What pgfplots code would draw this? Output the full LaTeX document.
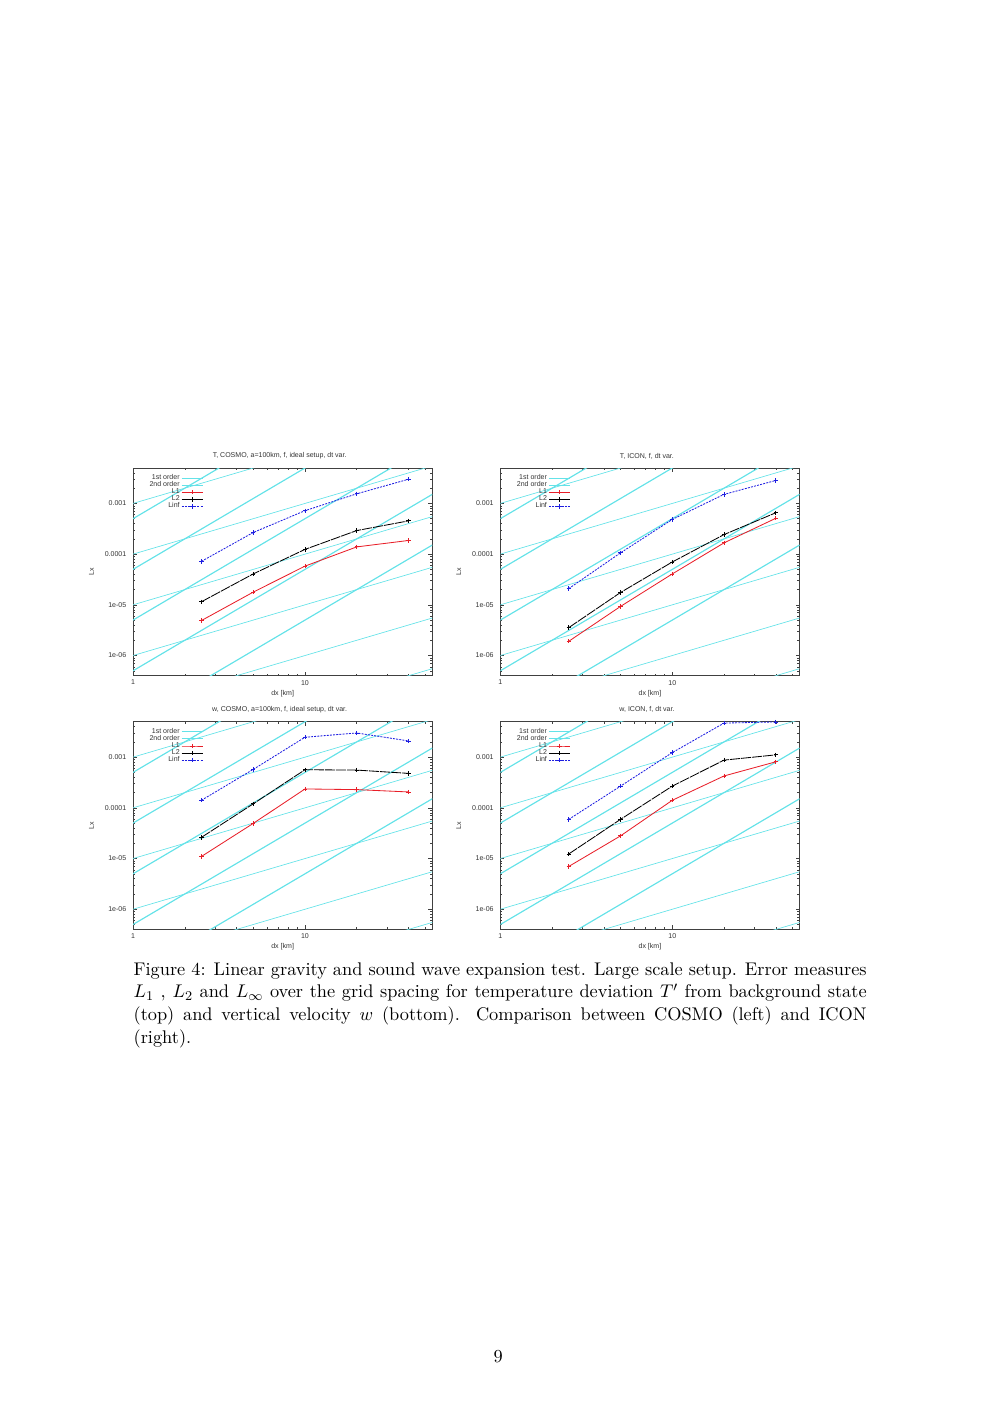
\documentclass[border=0pt]{standalone}
\usepackage{pgfplots}
\pgfplotsset{compat=1.18}
\usepackage{fontspec}
\newfontfamily\gp{Liberation Sans}
\definecolor{refc}{RGB}{100,226,232}
\definecolor{gpred}{RGB}{232,30,40}
\definecolor{gpblue}{RGB}{30,30,225}
\newcommand\gpfont{\gp\fontsize{4.2}{5}\selectfont}
\tikzset{
  o1/.style={refc, line width=0.4pt},
  o2/.style={refc, line width=0.7pt},
  sL1/.style={gpred, line width=0.5pt, mark=+, mark size=1.3pt, mark options={solid}},
  sL2/.style={black, line width=0.5pt, dash pattern=on 6pt off 0.6pt, mark=+, mark size=1.3pt, mark options={solid}},
  sLi/.style={gpblue, line width=0.5pt, dash pattern=on 1.2pt off 0.7pt, mark=+, mark size=1.3pt, mark options={solid}},
}
\pgfplotsset{
  legend image code/.code={\draw[mark repeat=2,mark phase=2,#1] plot coordinates {(0pt,0pt)(6.45pt,0pt)(12.9pt,0pt)};},
  every axis title shift=0pt,
  xmin=1, xmax=55, ymin=4e-7, ymax=5e-3,
  scale only axis, width=62.85mm, height=43.62mm,
  xtick={1,10}, xticklabels={1,10},
  minor xtick={2,3,4,5,6,7,8,9,20,30,40,50},
  ytick={1e-6,1e-5,1e-4,1e-3}, yticklabels={1e-06,1e-05,0.0001,0.001},
  minor ytick={5e-7,6e-7,7e-7,8e-7,9e-7,2e-6,3e-6,4e-6,5e-6,6e-6,7e-6,8e-6,9e-6,2e-5,3e-5,4e-5,5e-5,6e-5,7e-5,8e-5,9e-5,2e-4,3e-4,4e-4,5e-4,6e-4,7e-4,8e-4,9e-4,2e-3,3e-3,4e-3},
  tick align=inside, major tick length=2.4pt, minor tick length=1.3pt,
  axis line style={black!75, line width=0.4pt},
  tick style={black!75, line width=0.3pt},
  ticklabel style={font=\gpfont, text=black!80},
  yticklabel style={inner sep=0pt, xshift=-3.8pt},
  xticklabel style={inner sep=0pt, yshift=-2.45pt},
  ylabel style={at={(axis description cs:-0.1386,0.5)}, anchor=center, font=\gpfont, text=black!80},
  xlabel style={at={(axis description cs:0.5,-0.085)}, anchor=center, font=\gpfont, text=black!80},
  title style={at={(axis description cs:0.49,1.058)}, anchor=center, font=\gpfont, text=black!80},
  legend style={draw=none, fill=none, at={(axis description cs:0,1)}, anchor=north west,
    xshift=5.9pt, yshift=-1.7pt, font=\gpfont, text=black!80,
    nodes={inner xsep=0.8pt, inner ysep=0pt, text height=3pt, text depth=1.24pt}},
  legend cell align=right, legend plot pos=right,
}
\newcommand\reflines{%
\addlegendimage{o1}\addlegendentry{1st order}
\addlegendimage{o2}\addlegendentry{2nd order}
\addplot[o1,forget plot] coordinates {(1,1e-3)(55,5.5e-2)};
\addplot[o1,forget plot] coordinates {(1,1e-4)(55,5.5e-3)};
\addplot[o1,forget plot] coordinates {(1,1e-5)(55,5.5e-4)};
\addplot[o1,forget plot] coordinates {(1,1e-6)(55,5.5e-5)};
\addplot[o1,forget plot] coordinates {(1,1e-7)(55,5.5e-6)};
\addplot[o1,forget plot] coordinates {(1,1e-8)(55,5.5e-7)};
\addplot[o2,forget plot] coordinates {(1,5e-4)(55,1.5125)};
\addplot[o2,forget plot] coordinates {(1,5e-5)(55,0.15125)};
\addplot[o2,forget plot] coordinates {(1,5e-6)(55,1.5125e-2)};
\addplot[o2,forget plot] coordinates {(1,5e-7)(55,1.5125e-3)};
\addplot[o2,forget plot] coordinates {(1,5e-8)(55,1.5125e-4)};
}
\begin{document}
\begin{tikzpicture}
\path (0,0) rectangle (210mm,-296.73mm);
% top left
\begin{loglogaxis}[at={(27.93mm,-98.28mm)}, anchor=north west, xlabel={dx [km]}, ylabel={Lx}, title={T, COSMO, a=100km, f, ideal setup, dt var.}]
\reflines
\addplot[sL1] coordinates {(2.5,4.9e-6)(5,1.78e-5)(10,5.8e-5)(20,1.39e-4)(40,1.86e-4)};
\addlegendentry{L1}
\addplot[sL2] coordinates {(2.5,1.15e-5)(5,4.07e-5)(10,1.24e-4)(20,2.92e-4)(40,4.53e-4)};
\addlegendentry{L2}
\addplot[sLi] coordinates {(2.5,7.2e-5)(5,2.67e-4)(10,7.2e-4)(20,1.55e-3)(40,3.0e-3)};
\addlegendentry{Linf}
\end{loglogaxis}
% top right
\begin{loglogaxis}[at={(105.06mm,-98.28mm)}, anchor=north west, xlabel={dx [km]}, ylabel={Lx}, title={T, ICON, f, dt var.}]
\reflines
\addplot[sL1] coordinates {(2.5,1.91e-6)(5,9.3e-6)(10,4.07e-5)(20,1.67e-4)(40,5.1e-4)};
\addlegendentry{L1}
\addplot[sL2] coordinates {(2.5,3.55e-6)(5,1.75e-5)(10,7.0e-5)(20,2.43e-4)(40,6.55e-4)};
\addlegendentry{L2}
\addplot[sLi] coordinates {(2.5,2.09e-5)(5,1.06e-4)(10,4.83e-4)(20,1.51e-3)(40,2.84e-3)};
\addlegendentry{Linf}
\end{loglogaxis}
% bottom left
\begin{loglogaxis}[at={(27.93mm,-151.56mm)}, anchor=north west, xlabel={dx [km]}, ylabel={Lx}, title={w, COSMO, a=100km, f, ideal setup, dt var.}]
\reflines
\addplot[sL1] coordinates {(2.5,1.1e-5)(5,4.93e-5)(10,2.36e-4)(20,2.29e-4)(40,2.06e-4)};
\addlegendentry{L1}
\addplot[sL2] coordinates {(2.5,2.62e-5)(5,1.2e-4)(10,5.65e-4)(20,5.56e-4)(40,4.79e-4)};
\addlegendentry{L2}
\addplot[sLi] coordinates {(2.5,1.41e-4)(5,5.73e-4)(10,2.47e-3)(20,3.0e-3)(40,2.09e-3)};
\addlegendentry{Linf}
\end{loglogaxis}
% bottom right
\begin{loglogaxis}[at={(105.06mm,-151.56mm)}, anchor=north west, xlabel={dx [km]}, ylabel={Lx}, title={w, ICON, f, dt var.}]
\reflines
\addplot[sL1] coordinates {(2.5,6.98e-6)(5,2.8e-5)(10,1.41e-4)(20,4.26e-4)(40,8.1e-4)};
\addlegendentry{L1}
\addplot[sL2] coordinates {(2.5,1.23e-5)(5,5.93e-5)(10,2.68e-4)(20,8.74e-4)(40,1.11e-3)};
\addlegendentry{L2}
\addplot[sLi] coordinates {(2.5,5.93e-5)(5,2.68e-4)(10,1.23e-3)(20,4.7e-3)(40,4.95e-3)};
\addlegendentry{Linf}
\end{loglogaxis}
% caption
\node[anchor=base west, inner sep=0pt, text width=438pt, align=justify,
  font=\fontsize{10.95}{13.6}\selectfont] at (27.99mm,-204.75mm)
{Figure 4: Linear gravity and sound wave expansion test. Large scale setup. Error measures $L_1$ , $L_2$ and $L_\infty$ over the grid spacing for temperature deviation $T'$ from background state (top) and vertical velocity $w$ (bottom). Comparison between COSMO (left) and ICON (right).};
\node[anchor=base, inner sep=0pt, font=\fontsize{10.95}{13.6}\selectfont] at (104.64mm,-286.19mm) {9};
\end{tikzpicture}
\end{document}
